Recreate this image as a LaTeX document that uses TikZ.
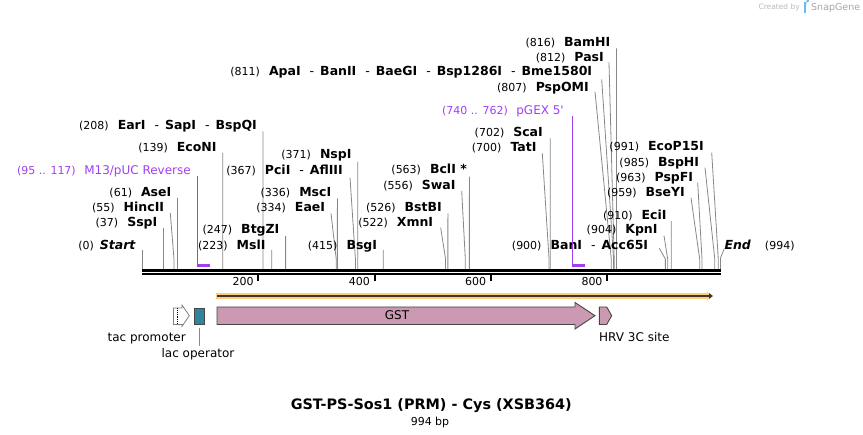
\documentclass[tikz,border=0pt]{standalone}
\usepackage{fontspec}
\setmainfont{DejaVu Sans}
\usetikzlibrary{arrows.meta}

\definecolor{primer}{RGB}{160,64,240}
\definecolor{leadgray}{RGB}{135,135,135}
\definecolor{featline}{RGB}{70,70,70}
\definecolor{orfband}{RGB}{253,208,128}
\definecolor{orfline}{RGB}{66,54,42}
\definecolor{gstpink}{RGB}{204,153,178}
\definecolor{opteal}{RGB}{49,132,155}
\definecolor{snapblue}{RGB}{110,185,240}

\newcommand{\bpnum}[1]{{\mdseries\fontsize{11}{13}\selectfont #1}}
\newcommand{\sep}{\hspace{9pt}{\mdseries -}\hspace{6pt}}

\tikzset{
  site/.style={inner sep=0pt, font=\fontsize{12.5}{14}\selectfont\bfseries},
  leader/.style={draw=leadgray, line width=0.8pt},
  featshape/.style={draw=featline, line width=0.9pt},
  featlbl/.style={inner sep=0pt, font=\fontsize{12}{14}\selectfont},
  primerlbl/.style={inner sep=0pt, text=primer, font=\fontsize{12}{14}\selectfont}
}

\begin{document}
\begin{tikzpicture}[x=1pt, y=-1pt]
    \useasboundingbox (0,0) rectangle (863,435);

    % created by
    \node[inner sep=0pt, anchor=east, text=gray!55, font=\fontsize{7.5}{9}\selectfont] (created) at (800,7.5) {Created by};
    \fill[snapblue] (803.5,2.5) rectangle (806,13);
    \fill[snapblue] (806,2.5) -- (806.8,2.5) arc (90:-90:2.4) -- (806,7.3) -- cycle;
    \node[inner sep=0pt, anchor=west, text=gray!70, font=\fontsize{9.5}{11}\selectfont] (snapgene) at (811,7.5) {SnapGene};

    % sequence
    \coordinate (seqL) at (142,270.5);
    \coordinate (seqR) at (720.5,270.5);
    \draw[line width=2.4pt] (seqL) -- (seqR);
    \draw[line width=2pt] ([yshift=-3.8pt]seqL) -- ([yshift=-3.8pt]seqR);

    % ticks
    \foreach \t in {200,400,600,800}{
        \pgfmathsetmacro{\tx}{142+\t*0.5815}
        \coordinate (k\t) at (\tx,275);
        \draw[line width=2pt] (k\t) -- ([yshift=-6.5pt]k\t);
        \node[inner sep=0pt, anchor=base east, font=\fontsize{11}{13}\selectfont] (n\t) at (\tx-4.5,285.5) {\t};
    }

    % start and end
    \node[site, anchor=base east] (lStart) at (136,249.5) {\bpnum{(0)}\hspace{6pt}\textit{Start}};
    \coordinate (sStart) at (142,269);
    \draw[leader] ([yshift=19pt]sStart) -- (sStart);
    \node[site, anchor=base west] (lEnd) at (724.3,249.5) {\textit{End}\hspace{14pt}\bpnum{(994)}};
    \coordinate (tEnd) at (724.3,248.5);
    \coordinate (sEnd) at (720.5,269);
    \draw[leader] (tEnd) -- ([yshift=11pt]sEnd) -- (sEnd);

    % cut sites
    \foreach \p/\lx/\ly/\tx/\ty/\nm in {
        37/157.5/222/163.5/228/{SspI},
        55/164.3/207/170.3/213/{HincII},
        61/171.5/192/177.5/198/{AseI},
        139/216.8/147/222.8/153/{EcoNI},
        208/257/125/263/131.5/{EarI\sep SapI\sep BspQI},
        223/265.7/245/271.7/250/{MslI},
        247/279.6/229.5/285.6/236/{BtgZI},
        334/325.3/207.3/331/213.3/{EaeI},
        336/331.4/192/337.4/198.3/{MscI},
        367/343/170/350/177.7/{PciI\sep AflIII},
        371/351.7/154.3/357.7/161.7/{NspI},
        415/377.3/245/383.3/250/{BsgI},
        522/433.3/221.7/440.7/227.7/{XmnI},
        526/441.9/207/447.9/213.3/{BstBI},
        556/455.7/184.7/461.7/191/{SwaI},
        563/467/169.3/469.4/176.7/{BclI *},
        700/536.7/146.7/542.3/153.3/{TatI},
        702/543/131.7/550.2/138.3/{ScaI},
        807/589/86.7/595/91.7/{PspOMI},
        811/592.3/70.7/601.7/79.3/{ApaI\sep BanII\sep BaeGI\sep Bsp1286I\sep Bme1580I},
        812/604/56.7/609/62.3/{PasI},
        816/610.5/42.3/616.5/48.3/{BamHI},
        900/648.3/245/659.3/248.3/{BanI\sep Acc65I},
        904/657.7/229.3/664/235.7/{KpnI},
        910/666.7/215/671.2/221/{EciI},
        959/685/191.7/691/197.7/{BseYI},
        963/693.3/177/697.7/182.7/{PspFI},
        985/699.3/162/705/167.7/{BspHI},
        991/704/146/711.7/152.7/{EcoP15I}}{
        \pgfmathsetmacro{\sx}{142+\p*0.5815}
        \node[site, anchor=base east] (l\p) at (\lx,\ly+4.5) {\bpnum{(\p)}\hspace{9pt}\nm};
        \coordinate (t\p) at (\tx,\ty);
        \coordinate (s\p) at (\sx,269);
        \draw[leader] (t\p) -- ([yshift=10pt]s\p) -- (s\p);
    }

    % primers
    \node[primerlbl, anchor=base east] (pM13) at (191,174.5) {\bpnum{(95 .. 117)}\hspace{8.5pt}M13/pUC Reverse};
    \coordinate (m13t) at (197.2,176);
    \coordinate (m13b) at (197.2,265.5);
    \coordinate (m13e) at (209.8,265.5);
    \draw[primer, line width=1pt] (m13t) -- (m13b);
    \draw[primer, line width=2.4pt] ([xshift=-0.5pt]m13b) -- (m13e);
    \node[primerlbl, anchor=base east] (pGEX) at (564,114.5) {\bpnum{(740 .. 762)}\hspace{8.5pt}pGEX 5\textquotesingle};
    \coordinate (gext) at (572.3,116);
    \coordinate (gexb) at (572.3,265.5);
    \coordinate (gexe) at (585.1,265.5);
    \draw[primer, line width=1pt] (gext) -- (gexb);
    \draw[primer, line width=2.4pt] ([xshift=-0.5pt]gexb) -- (gexe);

    % ORF
    \draw[orfband, line width=6pt, -{Triangle[length=5pt, width=9pt]}] (216,296) -- (712,296);
    \draw[orfline, line width=2pt, -{Triangle[length=4pt, width=5.5pt]}] (217,296) -- (713,296);

    % features
    \draw[draw=gray, fill=white, line width=0.8pt] (173.5,308) -- (182,308) -- (182,305) -- (189.3,315.7) -- (182,326.4) -- (182,324.5) -- (173.5,324.5) -- cycle;
    \draw[densely dotted, line width=0.8pt] (177,308.5) -- (177,324);
    \node[featshape, fill=opteal, inner sep=0pt, minimum width=10pt, minimum height=16pt] (lacop) at (199.3,316.3) {};
    \draw[featshape, fill=gstpink] (217,307) -- (575,307) -- (575,302.5) -- (595,315.7) -- (575,329) -- (575,324.5) -- (217,324.5) -- cycle;
    \node[featlbl] (gst) at (397,315.5) {GST};
    \draw[featshape, fill=gstpink] (599.3,307) -- (606.7,307) -- (611.7,315.7) -- (606.7,324.5) -- (599.3,324.5) -- cycle;

    % feature labels
    \node[featlbl, anchor=base] (tacl) at (146.7,342) {tac promoter};
    \node[featlbl, anchor=base] (lacl) at (198,357.5) {lac operator};
    \draw[leader] ([yshift=-3pt]lacop.south) -- ([yshift=2pt]lacl.north -| lacop.south);
    \node[featlbl, anchor=base west] (hrvl) at (599,342) {HRV 3C site};

    % title
    \node[font=\fontsize{14.4}{17}\selectfont\bfseries] (title) at (431.3,405.7) {GST-PS-Sos1 (PRM) - Cys (XSB364)};
    \node[font=\fontsize{11}{13}\selectfont] (size) at (430,422.7) {994 bp};
\end{tikzpicture}
\end{document}
